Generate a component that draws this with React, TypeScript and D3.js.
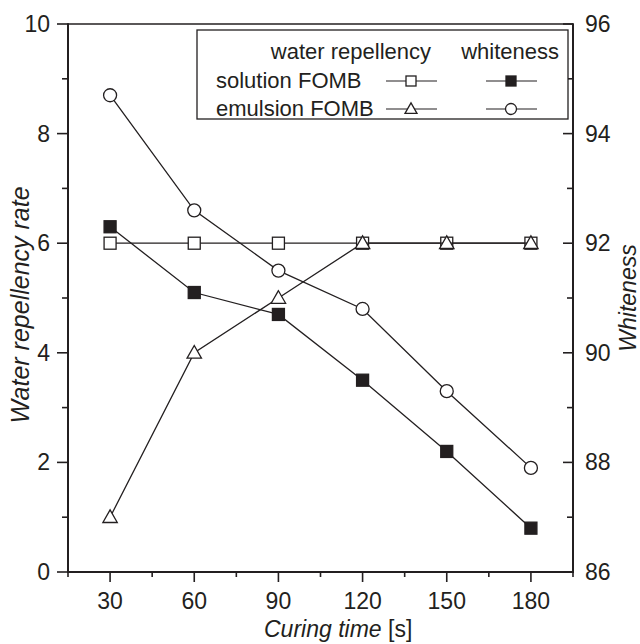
import React from "react";
import * as d3 from "d3";

// Curing time (s) and the measured series
const curingTime = [30, 60, 90, 120, 150, 180];
const repellencySolution = [6, 6, 6, 6, 6, 6];
const repellencyEmulsion = [1, 4, 5, 6, 6, 6];
const whitenessSolution = [92.3, 91.1, 90.7, 89.5, 88.2, 86.8];
const whitenessEmulsion = [94.7, 92.6, 91.5, 90.8, 89.3, 87.9];

const xMajorTicks = [30, 60, 90, 120, 150, 180];
const xMinorTicks = [15, 45, 75, 105, 135, 165, 195];
const leftMajorTicks = [0, 2, 4, 6, 8, 10];
const leftMinorTicks = [1, 3, 5, 7, 9];
const rightMajorTicks = [86, 88, 90, 92, 94, 96];
const rightMinorTicks = [87, 89, 91, 93, 95];

const W = 640;
const H = 644;
const INK = "#231f20";
const FONT = "'Liberation Sans', Arial, Helvetica, sans-serif";

const left = 68;
const right = 573;
const top = 24;
const bottom = 572;

const x = d3.scaleLinear().domain([15, 195]).range([left, right]);
const yL = d3.scaleLinear().domain([0, 10]).range([bottom, top]);
const yR = d3.scaleLinear().domain([86, 96]).range([bottom, top]);

type Shape = "square" | "filledSquare" | "triangle" | "circle";

function Marker({ shape, cx, cy, size = 12 }: { shape: Shape; cx: number; cy: number; size?: number }) {
  const h = size / 2;
  if (shape === "square" || shape === "filledSquare") {
    return (
      <rect
        x={cx - h}
        y={cy - h}
        width={size}
        height={size}
        fill={shape === "filledSquare" ? INK : "#fff"}
        stroke={INK}
        strokeWidth={1.3}
      />
    );
  }
  if (shape === "circle") {
    return <circle cx={cx} cy={cy} r={h + 0.5} fill="#fff" stroke={INK} strokeWidth={1.3} />;
  }
  const tw = size * 1.2;
  const th = size * 1.05;
  const pts = [
    [cx, cy - th * 0.58],
    [cx - tw / 2, cy + th * 0.42],
    [cx + tw / 2, cy + th * 0.42],
  ];
  return <polygon points={pts.map((p) => p.join(",")).join(" ")} fill="#fff" stroke={INK} strokeWidth={1.3} />;
}

function Series({ values, y, shape }: { values: number[]; y: d3.ScaleLinear<number, number>; shape: Shape }) {
  const pts: [number, number][] = values.map((v, i) => [x(curingTime[i]), y(v)]);
  const line = d3.line();
  return (
    <g>
      <path d={line(pts) ?? ""} fill="none" stroke={INK} strokeWidth={1.3} />
      {pts.map(([cx, cy], i) => (
        <Marker key={i} shape={shape} cx={cx} cy={cy} />
      ))}
    </g>
  );
}

function LegendSymbol({ shape, cx, cy }: { shape: Shape; cx: number; cy: number }) {
  return (
    <g>
      <line x1={cx - 25} x2={cx + 26} y1={cy} y2={cy} stroke={INK} strokeWidth={1.2} />
      <Marker shape={shape} cx={cx} cy={cy} size={10} />
    </g>
  );
}

export default function App() {
  const tickFont = 23;
  return (
    <svg width={W} height={H} viewBox={`0 0 ${W} ${H}`} style={{ display: "block", position: "absolute", left: 0, top: 0 }}>
      <rect width={W} height={H} fill="#fff" />
      <g fontFamily={FONT} fill={INK}>
        {/* data */}
        <Series values={repellencySolution} y={yL} shape="square" />
        <Series values={repellencyEmulsion} y={yL} shape="triangle" />
        <Series values={whitenessSolution} y={yR} shape="filledSquare" />
        <Series values={whitenessEmulsion} y={yR} shape="circle" />

        {/* frame */}
        <line x1={left} x2={right} y1={top} y2={top} stroke={INK} strokeWidth={1.7} />
        <line x1={left} x2={left} y1={top - 0.8} y2={bottom + 1} stroke={INK} strokeWidth={2} />
        <line x1={right} x2={right} y1={top - 0.8} y2={bottom + 1} stroke={INK} strokeWidth={2} />
        <line x1={left - 1} x2={right + 1} y1={bottom} y2={bottom} stroke={INK} strokeWidth={2} />

        {/* x axis */}
        {xMajorTicks.map((t) => (
          <g key={`xm${t}`}>
            <line x1={x(t)} x2={x(t)} y1={bottom} y2={bottom + 10} stroke={INK} strokeWidth={1.6} />
            <text x={x(t)} y={609} textAnchor="middle" fontSize={tickFont}>
              {t}
            </text>
          </g>
        ))}
        {xMinorTicks.map((t) => (
          <line key={`xn${t}`} x1={x(t)} x2={x(t)} y1={bottom} y2={bottom + 5} stroke={INK} strokeWidth={1.6} />
        ))}

        {/* left axis */}
        {leftMajorTicks.map((t) => (
          <g key={`lm${t}`}>
            <line x1={left - 11} x2={left} y1={yL(t)} y2={yL(t)} stroke={INK} strokeWidth={1.6} />
            <text x={50} y={yL(t)} dy="0.35em" textAnchor="end" fontSize={tickFont}>
              {t}
            </text>
          </g>
        ))}
        {leftMinorTicks.map((t) => (
          <line key={`ln${t}`} x1={left - 6} x2={left} y1={yL(t)} y2={yL(t)} stroke={INK} strokeWidth={1.6} />
        ))}

        {/* right axis */}
        {rightMajorTicks.map((t) => (
          <g key={`rm${t}`}>
            <line x1={right - 10} x2={right} y1={yR(t)} y2={yR(t)} stroke={INK} strokeWidth={1.6} />
            <text x={585} y={yR(t)} dy="0.35em" textAnchor="start" fontSize={tickFont}>
              {t}
            </text>
          </g>
        ))}
        {rightMinorTicks.map((t) => (
          <line key={`rn${t}`} x1={right - 6} x2={right} y1={yR(t)} y2={yR(t)} stroke={INK} strokeWidth={1.6} />
        ))}

        {/* axis titles */}
        <text x={264} y={637} fontSize={23}>
          <tspan fontStyle="italic">Curing time</tspan>
          <tspan> [s]</tspan>
        </text>
        <text
          transform={`translate(29, ${305}) rotate(-90)`}
          textAnchor="middle"
          fontSize={25}
          fontStyle="italic"
        >
          Water repellency rate
        </text>
        <text transform={`translate(636, ${298}) rotate(-90)`} textAnchor="middle" fontSize={23} fontStyle="italic">
          Whiteness
        </text>

        {/* legend */}
        <rect x={197} y={30} width={371} height={89} fill="#fff" stroke={INK} strokeWidth={1.3} />
        <text x={431} y={59} textAnchor="end" fontSize={22}>
          water repellency
        </text>
        <text x={559} y={59} textAnchor="end" fontSize={22}>
          whiteness
        </text>
        <text x={216} y={88} fontSize={22}>
          solution FOMB
        </text>
        <text x={216} y={116} fontSize={22}>
          emulsion FOMB
        </text>
        <LegendSymbol shape="square" cx={411} cy={81} />
        <LegendSymbol shape="filledSquare" cx={511} cy={81} />
        <LegendSymbol shape="triangle" cx={411} cy={109} />
        <LegendSymbol shape="circle" cx={511} cy={109} />
      </g>
    </svg>
  );
}
